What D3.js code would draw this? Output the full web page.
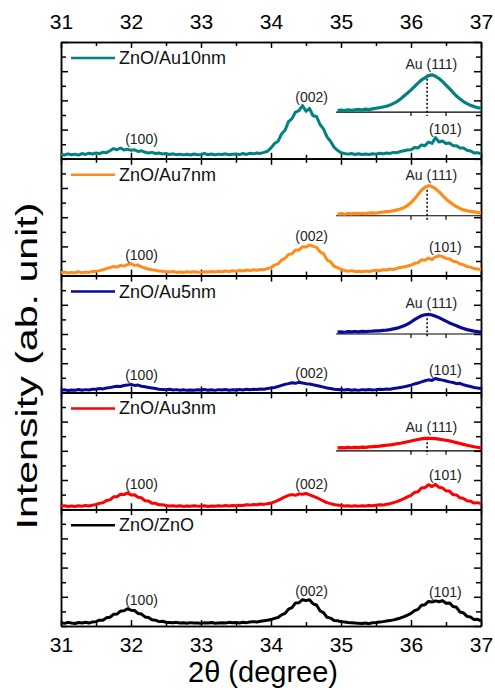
<!DOCTYPE html>
<html>
<head>
<meta charset="utf-8">
<script src="https://cdn.jsdelivr.net/npm/d3@7"></script>
<style>
  body { margin: 0; background: #fff; }
  svg { font-family: "Liberation Sans", Arial, sans-serif; }
</style>
</head>
<body>
<svg id="chart"></svg>
<script>
// ── Data ────────────────────────────────────────────────────────────────
// 2θ sampling of the scans (every 0.05°)
const twoTheta = d3.range(121).map(i => 31 + i * 0.05);
const twoThetaAu = d3.range(42).map(i => 34.95 + i * 0.05);

const sampleNames  = ["ZnO/Au10nm", "ZnO/Au7nm", "ZnO/Au5nm", "ZnO/Au3nm", "ZnO/ZnO"];
const sampleColors = ["#00827f", "#ff8c1a", "#0a0a96", "#ff0000", "#000000"];

const hklLabels  = ["(100)", "(002)", "(101)"];
const hklLabelAt = [32.15, 34.58, 36.49];
const auLabel    = "Au (111)";
const auLabelAt  = 36.29;
const auPeak     = 36.23;
const auAxisBase = [3.2, 4.1, 4.0, 4.0];

const scanAu10 = [
  0.3,0.26,0.34,0.28,0.32,0.25,0.36,0.3,0.38,0.33,
  0.4,0.36,0.45,0.42,0.55,0.7,0.62,0.74,0.6,0.66,
  0.58,0.62,0.5,0.55,0.45,0.4,0.44,0.36,0.4,0.33,
  0.36,0.3,0.34,0.28,0.32,0.27,0.31,0.26,0.33,0.28,
  0.3,0.36,0.28,0.33,0.27,0.32,0.29,0.34,0.28,0.31,
  0.33,0.29,0.36,0.3,0.38,0.34,0.4,0.37,0.44,0.52,
  0.75,1.05,1.2,1.7,1.95,2.55,2.75,3.2,3.3,3.65,
  3.25,3.45,2.95,2.9,2.35,2.05,1.5,1.2,0.8,0.58,
  0.42,0.36,0.32,0.36,0.3,0.34,0.29,0.33,0.3,0.35,
  0.32,0.38,0.34,0.4,0.37,0.44,0.42,0.5,0.55,0.6,
  0.62,0.78,0.74,0.95,0.9,1.15,1.05,1.45,1.15,1.22,
  1.05,1.08,0.9,0.9,0.74,0.74,0.58,0.54,0.4,0.42,
  0.34];
const scanAu7 = [
  0.2,0.24,0.18,0.22,0.2,0.26,0.19,0.24,0.22,0.28,
  0.3,0.34,0.4,0.48,0.55,0.62,0.58,0.7,0.65,0.75,
  0.82,0.7,0.72,0.6,0.52,0.45,0.4,0.36,0.32,0.3,
  0.27,0.24,0.28,0.22,0.25,0.21,0.26,0.23,0.27,0.24,
  0.22,0.27,0.24,0.28,0.25,0.3,0.27,0.32,0.28,0.33,
  0.3,0.35,0.32,0.38,0.34,0.4,0.37,0.42,0.4,0.48,
  0.55,0.72,0.8,1.06,1.18,1.45,1.5,1.76,1.75,1.98,
  1.95,2.1,2.0,1.95,1.62,1.5,1.08,0.95,0.64,0.55,
  0.42,0.35,0.3,0.34,0.28,0.3,0.26,0.31,0.28,0.33,
  0.36,0.33,0.4,0.38,0.45,0.42,0.5,0.55,0.6,0.66,
  0.72,0.84,0.88,1.08,1.05,1.2,1.1,1.28,1.36,1.3,
  1.18,1.15,0.98,0.95,0.8,0.75,0.62,0.58,0.48,0.46,
  0.4];
const scanAu5 = [
  0.15,0.18,0.13,0.17,0.14,0.2,0.15,0.19,0.16,0.21,
  0.22,0.26,0.24,0.3,0.33,0.38,0.42,0.4,0.47,0.5,
  0.55,0.48,0.5,0.42,0.38,0.34,0.3,0.26,0.22,0.2,
  0.18,0.21,0.16,0.19,0.15,0.18,0.14,0.17,0.15,0.18,
  0.16,0.2,0.15,0.18,0.14,0.19,0.16,0.2,0.15,0.18,
  0.17,0.2,0.16,0.21,0.18,0.22,0.2,0.24,0.22,0.27,
  0.3,0.34,0.4,0.48,0.55,0.6,0.66,0.62,0.7,0.65,
  0.6,0.58,0.52,0.47,0.42,0.36,0.3,0.26,0.22,0.2,
  0.18,0.16,0.2,0.15,0.18,0.14,0.19,0.16,0.2,0.17,
  0.19,0.22,0.2,0.24,0.22,0.27,0.3,0.34,0.38,0.44,
  0.5,0.58,0.64,0.72,0.8,0.86,0.82,0.95,0.88,0.84,
  0.78,0.72,0.68,0.6,0.62,0.52,0.46,0.4,0.34,0.3,
  0.27];
const scanAu3 = [
  0.2,0.23,0.18,0.22,0.19,0.24,0.2,0.26,0.22,0.28,
  0.32,0.4,0.44,0.6,0.64,0.85,0.86,1.02,1.0,1.12,
  0.98,0.99,0.82,0.78,0.58,0.56,0.4,0.4,0.3,0.3,
  0.25,0.22,0.24,0.2,0.23,0.19,0.22,0.2,0.24,0.21,
  0.2,0.23,0.19,0.22,0.2,0.24,0.21,0.25,0.22,0.26,
  0.24,0.27,0.25,0.3,0.28,0.32,0.3,0.35,0.33,0.38,
  0.42,0.5,0.6,0.72,0.85,0.95,1.0,0.95,1.05,1.02,
  1.08,0.98,0.9,0.8,0.68,0.56,0.45,0.38,0.32,0.28,
  0.25,0.22,0.24,0.2,0.23,0.21,0.24,0.22,0.26,0.24,
  0.27,0.3,0.28,0.34,0.38,0.45,0.52,0.62,0.72,0.84,
  0.95,1.15,1.2,1.45,1.48,1.68,1.55,1.7,1.5,1.46,
  1.26,1.24,1.0,0.98,0.78,0.74,0.58,0.55,0.42,0.45,
  0.38];
const scanZnO = [
  0.22,0.18,0.25,0.2,0.17,0.24,0.21,0.26,0.2,0.28,
  0.3,0.4,0.4,0.56,0.6,0.8,0.82,1.02,1.04,1.18,
  1.08,1.06,0.86,0.82,0.62,0.58,0.42,0.4,0.3,0.32,
  0.26,0.24,0.22,0.25,0.2,0.22,0.19,0.23,0.2,0.21,
  0.18,0.22,0.2,0.24,0.19,0.21,0.23,0.2,0.25,0.22,
  0.24,0.21,0.26,0.23,0.27,0.3,0.28,0.32,0.36,0.4,
  0.44,0.52,0.58,0.76,0.86,1.16,1.26,1.58,1.6,1.8,
  1.74,1.8,1.52,1.44,1.04,0.92,0.6,0.54,0.38,0.36,
  0.3,0.27,0.24,0.22,0.2,0.18,0.17,0.2,0.16,0.22,
  0.24,0.27,0.3,0.34,0.37,0.42,0.48,0.55,0.64,0.74,
  0.86,1.05,1.14,1.42,1.46,1.68,1.64,1.72,1.66,1.74,
  1.56,1.58,1.34,1.28,0.96,0.9,0.66,0.62,0.44,0.46,
  0.36];

const auScanAu10 = [
  3.3,3.33,3.3,3.36,3.32,3.35,3.38,3.34,3.4,3.37,
  3.42,3.46,3.5,3.55,3.6,3.68,3.8,3.92,4.1,4.3,
  4.5,4.72,4.95,5.18,5.4,5.55,5.7,5.75,5.65,5.5,
  5.3,5.05,4.8,4.55,4.3,4.1,3.92,3.78,3.66,3.58,
  3.5,3.46];
const auScanAu7 = [
  4.22,4.24,4.2,4.25,4.23,4.26,4.24,4.27,4.25,4.28,
  4.3,4.28,4.32,4.35,4.38,4.4,4.45,4.5,4.56,4.65,
  4.8,5.0,5.25,5.55,5.85,6.05,6.16,6.1,5.95,5.75,
  5.5,5.25,5.05,4.88,4.72,4.6,4.5,4.44,4.4,4.36,
  4.33,4.3];
const auScanAu5 = [
  4.13,4.15,4.12,4.16,4.14,4.17,4.15,4.18,4.16,4.19,
  4.2,4.22,4.21,4.25,4.27,4.3,4.35,4.4,4.48,4.56,
  4.68,4.82,4.98,5.12,5.25,5.32,5.35,5.3,5.22,5.12,
  5.0,4.88,4.76,4.66,4.56,4.46,4.38,4.3,4.25,4.2,
  4.16,4.13];
const auScanAu3 = [
  4.2,4.22,4.2,4.23,4.21,4.24,4.22,4.25,4.24,4.27,
  4.28,4.3,4.32,4.35,4.38,4.4,4.44,4.48,4.52,4.57,
  4.62,4.67,4.72,4.77,4.82,4.85,4.86,4.85,4.83,4.8,
  4.76,4.72,4.68,4.62,4.56,4.5,4.44,4.38,4.33,4.28,
  4.24,4.2];

const mainScans = [scanAu10, scanAu7, scanAu5, scanAu3, scanZnO];
const auScans   = [auScanAu10, auScanAu7, auScanAu5, auScanAu3];

const xTicks      = [31, 32, 33, 34, 35, 36, 37];
const xMinorTicks = [31.5, 32.5, 33.5, 34.5, 35.5, 36.5];

// ── Layout ──────────────────────────────────────────────────────────────
const W = 495, H = 690;
const plotL = 61, plotR = 481, plotT = 42, plotB = 626;
const panelH = (plotB - plotT) / sampleNames.length;

const svg = d3.select("#chart").attr("width", W).attr("height", H);

const x = d3.scaleLinear().domain([31, 37]).range([plotL, plotR]);

const styleAxis = g => g
  .call(g => g.selectAll("path, line").attr("stroke", "#000").attr("stroke-width", 1.5))
  .call(g => g.selectAll("text").attr("fill", "#000"));

sampleNames.forEach((name, p) => {
  const y0 = plotT + p * panelH, y1 = y0 + panelH;
  const y = d3.scaleLinear().domain([0, 8]).range([y1, y0]);
  const g = svg.append("g");
  const color = sampleColors[p];

  // ── Axes (ticks pointing inward) ─────────────────────────────────────
  const addAxis = (axis, tr) => g.append("g").attr("transform", tr).call(axis).call(styleAxis);

  addAxis(d3.axisLeft(y).tickValues([0, 2, 4, 6, 8]).tickSize(-7).tickSizeOuter(0).tickFormat(""), `translate(${plotL},0)`);
  addAxis(d3.axisLeft(y).tickValues([1, 3, 5, 7]).tickSize(-5).tickSizeOuter(0).tickFormat(""), `translate(${plotL},0)`);
  addAxis(d3.axisRight(y).tickValues([0, 2, 4, 6, 8]).tickSize(-7).tickSizeOuter(0).tickFormat(""), `translate(${plotR},0)`);
  addAxis(d3.axisRight(y).tickValues([1, 3, 5, 7]).tickSize(-5).tickSizeOuter(0).tickFormat(""), `translate(${plotR},0)`);

  const topAxis = d3.axisTop(x).tickValues(xTicks).tickSize(-6).tickSizeOuter(0)
    .tickPadding(13).tickFormat(p === 0 ? d3.format("d") : "");
  addAxis(topAxis, `translate(0,${y0})`).selectAll("text").attr("font-size", 21);
  addAxis(d3.axisTop(x).tickValues(xMinorTicks).tickSize(-4).tickSizeOuter(0).tickFormat(""), `translate(0,${y0})`);

  const botAxis = d3.axisBottom(x).tickValues(xTicks).tickSize(-6).tickSizeOuter(0)
    .tickPadding(11).tickFormat(p === sampleNames.length - 1 ? d3.format("d") : "");
  addAxis(botAxis, `translate(0,${y1})`).selectAll("text").attr("font-size", 21);
  addAxis(d3.axisBottom(x).tickValues(xMinorTicks).tickSize(-4).tickSizeOuter(0).tickFormat(""), `translate(0,${y1})`);

  // ── Main scan ────────────────────────────────────────────────────────
  const scan = mainScans[p];
  g.append("path")
    .datum(scan)
    .attr("fill", "none")
    .attr("stroke", color)
    .attr("stroke-width", 3)
    .attr("stroke-linejoin", "round")
    .attr("d", d3.line().x((d, i) => x(twoTheta[i])).y(d => y(d)));

  // peak labels sit just above the local maximum
  hklLabels.forEach((lab, k) => {
    const c = hklLabelAt[k];
    const peak = d3.max(scan.filter((d, i) => Math.abs(twoTheta[i] - c) <= 0.4));
    g.append("text")
      .attr("x", x(c)).attr("y", y(peak) - 4)
      .attr("text-anchor", "middle")
      .attr("font-size", 14)
      .attr("fill", "#222")
      .text(lab);
  });

  // ── Au (111) inset ───────────────────────────────────────────────────
  if (p < auScans.length) {
    const au = auScans[p];
    const base = auAxisBase[p];
    g.append("line")
      .attr("x1", x(34.93)).attr("x2", x(37))
      .attr("y1", y(base)).attr("y2", y(base))
      .attr("stroke", "#000").attr("stroke-width", 1.2);
    [36, 36.5].forEach(t => g.append("line")
      .attr("x1", x(t)).attr("x2", x(t))
      .attr("y1", y(base)).attr("y2", y(base) + 4)
      .attr("stroke", "#000").attr("stroke-width", 1.2));

    const auMax = d3.max(au);
    g.append("line")
      .attr("x1", x(auPeak)).attr("x2", x(auPeak))
      .attr("y1", y(auMax)).attr("y2", y(base) + 4)
      .attr("stroke", "#000").attr("stroke-width", 1.5)
      .attr("stroke-dasharray", "2,2");

    g.append("path")
      .datum(au)
      .attr("fill", "none")
      .attr("stroke", color)
      .attr("stroke-width", 3.2)
      .attr("stroke-linejoin", "round")
      .attr("d", d3.line().x((d, i) => x(twoThetaAu[i])).y(d => y(d)));

    g.append("text")
      .attr("x", x(auLabelAt)).attr("y", y(auMax) - 6)
      .attr("text-anchor", "middle")
      .attr("font-size", 14)
      .attr("fill", "#222")
      .text(auLabel);
  }

  // ── Legend ───────────────────────────────────────────────────────────
  g.append("line")
    .attr("x1", 71).attr("x2", 115)
    .attr("y1", y0 + 16).attr("y2", y0 + 16)
    .attr("stroke", color).attr("stroke-width", 2.5);
  g.append("text")
    .attr("x", 119).attr("y", y0 + 22)
    .attr("font-size", 18)
    .attr("fill", "#111")
    .text(name);
});

// ── Axis titles ─────────────────────────────────────────────────────────
svg.append("text")
  .attr("x", 263).attr("y", 682)
  .attr("text-anchor", "middle")
  .attr("font-size", 29)
  .text("2θ (degree)");

svg.append("text")
  .attr("transform", "translate(37,366) rotate(-90)")
  .attr("text-anchor", "middle")
  .attr("font-size", 30)
  .attr("textLength", 327)
  .attr("lengthAdjust", "spacingAndGlyphs")
  .text("Intensity (ab. unit)");
</script>
</body>
</html>
